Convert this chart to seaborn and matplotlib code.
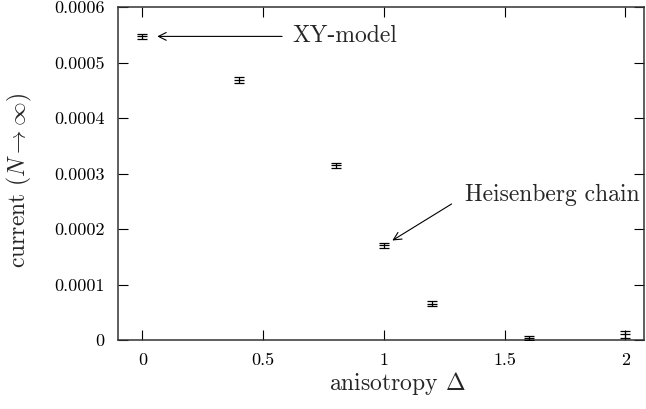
import numpy as np
import pandas as pd
import matplotlib
matplotlib.use("Agg")
import matplotlib.pyplot as plt
import seaborn as sns

# anisotropy values and extrapolated current with its uncertainty
anisotropy = [0.0, 0.4, 0.8, 1.0, 1.2, 1.6, 2.0]
current = [0.000547, 0.000469, 0.000315, 0.000171, 0.000066, 0.000004, 0.000011]
current_err = [0.000004, 0.000005, 0.000005, 0.000005, 0.000005, 0.000003, 0.000006]

x_ticks = [0, 0.5, 1, 1.5, 2]
y_ticks = [0, 0.0001, 0.0002, 0.0003, 0.0004, 0.0005, 0.0006]

df = pd.DataFrame({"anisotropy": anisotropy, "current": current, "err": current_err})

sns.set_style("ticks")
plt.rcParams.update({
    "font.family": "serif",
    "font.serif": ["cmr10", "DejaVu Serif"],
    "mathtext.fontset": "cm",
    "axes.formatter.use_mathtext": True,
    "axes.unicode_minus": False,
    "xtick.labelsize": 13,
    "ytick.labelsize": 13,
})

fig = plt.figure(figsize=(6.46, 4.09), dpi=100)
ax = fig.add_axes([0.183, 0.168, 0.814, 0.815])

ax.errorbar(df["anisotropy"], df["current"], yerr=df["err"], fmt="none",
            ecolor="black", elinewidth=0.9, capsize=3.5, capthick=0.9, zorder=3)
sns.scatterplot(data=df, x="anisotropy", y="current", marker="_", s=45,
                color="black", linewidth=0.9, ax=ax, zorder=4, legend=False)

ax.set_xlim(-0.1, 2.077)
ax.set_ylim(0, 0.0006)
ax.set_xticks(x_ticks)
ax.set_yticks(y_ticks)
ax.set_xticklabels([f"{v:g}" for v in x_ticks])
ax.set_yticklabels([f"{v:g}" for v in y_ticks])

ax.tick_params(direction="in", length=7, width=0.8, top=True, right=True,
               colors="black", labelsize=13)
ax.tick_params(axis="x", pad=9)
ax.tick_params(axis="y", pad=10)
for s in ax.spines.values():
    s.set_linewidth(1.1)
    s.set_color("#333333")

ax.set_xlabel(r"anisotropy $\Delta$", fontsize=17)
ax.xaxis.set_label_coords(0.53, -0.09)
ax.set_ylabel(r"current ($N\rightarrow\infty$)", fontsize=17)
ax.yaxis.set_label_coords(-0.16, 0.48)

# annotations for the two limiting cases
arrow = dict(arrowstyle="->", lw=0.8, color="black", mutation_scale=14)
ax.annotate("", xy=(0.05, 0.000547), xytext=(0.59, 0.000547), arrowprops=arrow)
ax.text(0.62, 0.000547, "XY-model", fontsize=17, va="center", ha="left")
ax.annotate("", xy=(1.025, 0.000177), xytext=(1.29, 0.000248), arrowprops=arrow)
ax.text(1.335, 0.000262, "Heisenberg chain", fontsize=17, va="center", ha="left")

fig.savefig("out.png", dpi=100)
